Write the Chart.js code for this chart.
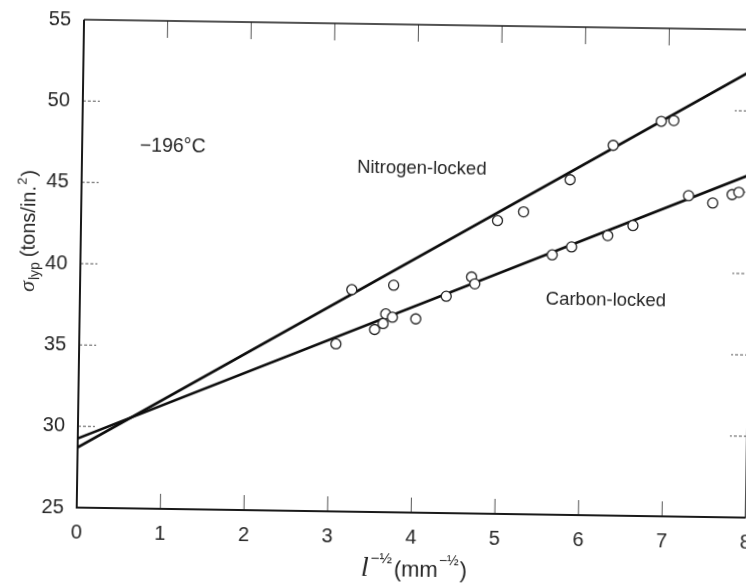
<!DOCTYPE html>
<html lang="en">
<head>
<meta charset="UTF-8" />
<title>Lower yield point vs grain size</title>
<script src="https://cdn.jsdelivr.net/npm/chart.js"></script>
<style>
  html, body { margin: 0; padding: 0; background: #fff; overflow: hidden; width: 746px; height: 583px; }
  /* the scanned figure is tilted a little clockwise */
  #wrap { position: absolute; left: 0; top: 0; width: 760px; height: 583px;
          transform: rotate(0.86deg); transform-origin: 373px 291.5px; }
</style>
</head>
<body>
<div id="wrap"><canvas id="chart" width="760" height="583"></canvas></div>
<script>
  const xTicks = [0, 1, 2, 3, 4, 5, 6, 7, 8];
  const yTicks = [25, 30, 35, 40, 45, 50, 55];

  const nitrogenX = [3.25, 3.75, 4.98, 5.29, 5.84, 6.35, 6.92, 7.07];
  const nitrogenY = [38.65, 38.96, 43.03, 43.59, 45.61, 47.76, 49.28, 49.34];

  const carbonX = [3.07, 3.53, 3.63, 3.66, 3.74, 4.02, 4.38, 4.68, 4.72, 5.64, 5.87, 6.30, 6.60, 7.26, 7.55, 7.78, 7.86];
  const carbonY = [35.30, 36.22, 36.59, 37.19, 36.99, 36.91, 38.33, 39.54, 39.12, 40.97, 41.48, 42.21, 42.85, 44.74, 44.31, 44.84, 44.99];

  const nitrogenFitX = [0, 8];
  const nitrogenFitY = [28.7, 52.5];
  const carbonFitX = [0, 8];
  const carbonFitY = [29.25, 46.1];

  const labelTexts = [
    { text: '\u2212196\u00b0C', x: 0.69, y: 47.3, size: 19.5 },
    { text: 'Nitrogen-locked', x: 3.29, y: 46.16, size: 18.5 },
    { text: 'Carbon-locked', x: 5.57, y: 38.22, size: 18.5 }
  ];

  const SANS = '"Liberation Sans", Arial, sans-serif';
  const SERIF = '"Liberation Serif", "DejaVu Serif", serif';
  const INK = '#262626';

  const toPoints = (xs, ys) => xs.map((x, i) => ({ x: x, y: ys[i] }));

  // draw a run of text pieces (different fonts / raised or lowered) centred on cx
  function drawRuns(ctx, runs, cx, baseY) {
    let total = 0;
    runs.forEach(r => { ctx.font = r.font; total += ctx.measureText(r.text).width + (r.gap || 0); });
    let x = cx - total / 2;
    runs.forEach(r => {
      ctx.font = r.font;
      ctx.fillText(r.text, x, baseY + (r.dy || 0));
      x += ctx.measureText(r.text).width + (r.gap || 0);
    });
  }

  const framePlugin = {
    id: 'frame',
    beforeDatasetsDraw(chart) {
      const { ctx, chartArea: a, scales } = chart;
      ctx.save();
      // inward tick marks
      ctx.strokeStyle = '#555';
      ctx.lineWidth = 1;
      xTicks.slice(1, -1).forEach(v => {
        const px = scales.x.getPixelForValue(v);
        ctx.beginPath();
        ctx.moveTo(px, a.bottom); ctx.lineTo(px, a.bottom - 15);
        ctx.moveTo(px, a.top); ctx.lineTo(px, a.top + 17);
        ctx.stroke();
      });
      ctx.setLineDash([3, 2]);
      yTicks.slice(1, -1).forEach(v => {
        const py = scales.y.getPixelForValue(v);
        ctx.beginPath();
        ctx.moveTo(a.left, py); ctx.lineTo(a.left + 17, py);
        ctx.moveTo(a.right, py); ctx.lineTo(a.right - 17, py);
        ctx.stroke();
      });
      ctx.setLineDash([]);
      // box
      ctx.strokeStyle = '#1a1a1a';
      ctx.lineWidth = 2;
      ctx.beginPath();
      ctx.moveTo(a.left, a.top); ctx.lineTo(a.left, a.bottom); ctx.lineTo(a.right, a.bottom);
      ctx.stroke();
      ctx.lineWidth = 1.5;
      ctx.beginPath();
      ctx.moveTo(a.left, a.top); ctx.lineTo(a.right, a.top); ctx.lineTo(a.right, a.bottom);
      ctx.stroke();
      ctx.restore();
    },
    afterDraw(chart) {
      const { ctx, chartArea: a, scales } = chart;
      ctx.save();
      ctx.fillStyle = INK;
      ctx.textBaseline = 'middle';
      ctx.textAlign = 'left';
      labelTexts.forEach(t => {
        ctx.font = t.size + 'px ' + SANS;
        ctx.fillText(t.text, scales.x.getPixelForValue(t.x), scales.y.getPixelForValue(t.y));
      });

      ctx.textBaseline = 'alphabetic';
      // x axis title: l^-1/2 (mm^-1/2)
      drawRuns(ctx, [
        { text: 'l', font: 'italic 28px ' + SERIF, gap: 2 },
        { text: '\u2212\u00bd', font: '15px ' + SANS, dy: -13, gap: 2 },
        { text: '(mm', font: '22px ' + SANS, gap: 1 },
        { text: '\u2212\u00bd', font: '14px ' + SANS, dy: -12, gap: 1 },
        { text: ')', font: '22px ' + SANS }
      ], a.left + 338, a.bottom + 64);

      // y axis title: sigma_lyp (tons/in.^2)
      ctx.translate(34, 236);
      ctx.rotate(-Math.PI / 2);
      drawRuns(ctx, [
        { text: '\u03c3', font: 'italic 22px ' + SERIF, gap: 1 },
        { text: 'lyp', font: '14px ' + SANS, dy: 5, gap: 5 },
        { text: '(tons/in.', font: '20px ' + SANS, gap: 1 },
        { text: '2', font: '13px ' + SANS, dy: -9, gap: 1 },
        { text: ')', font: '20px ' + SANS }
      ], 0, 0);
      ctx.restore();
    }
  };

  const markerStyle = {
    showLine: false,
    pointRadius: 5,
    pointBorderWidth: 1.3,
    pointBorderColor: '#222',
    pointBackgroundColor: '#fff'
  };
  const fitStyle = {
    showLine: true,
    pointRadius: 0,
    borderColor: '#0d0d0d',
    borderWidth: 2.6,
    fill: false
  };

  new Chart(document.getElementById('chart'), {
    type: 'scatter',
    data: {
      datasets: [
        Object.assign({ label: 'Nitrogen-locked', data: toPoints(nitrogenX, nitrogenY) }, markerStyle),
        Object.assign({ label: 'Carbon-locked', data: toPoints(carbonX, carbonY) }, markerStyle),
        Object.assign({ label: 'Nitrogen fit', data: toPoints(nitrogenFitX, nitrogenFitY) }, fitStyle),
        Object.assign({ label: 'Carbon fit', data: toPoints(carbonFitX, carbonFitY) }, fitStyle)
      ]
    },
    options: {
      responsive: false,
      animation: false,
      layout: { padding: { left: 0, right: 11, top: 24, bottom: 0 } },
      plugins: { legend: { display: false }, tooltip: { enabled: false } },
      scales: {
        x: {
          type: 'linear', min: 0, max: 8,
          grid: { display: false }, border: { display: false },
          afterBuildTicks: s => { s.ticks = xTicks.map(v => ({ value: v })); },
          afterFit: s => { s.height = 71; },
          ticks: { padding: 5, color: INK, font: { family: SANS, size: 20 } }
        },
        y: {
          type: 'linear', min: 25, max: 55,
          grid: { display: false }, border: { display: false },
          afterBuildTicks: s => { s.ticks = yTicks.map(v => ({ value: v })); },
          afterFit: s => { s.width = 80; },
          ticks: { padding: 5, color: INK, font: { family: SANS, size: 20 } }
        }
      }
    },
    plugins: [framePlugin]
  });
</script>
</body>
</html>
